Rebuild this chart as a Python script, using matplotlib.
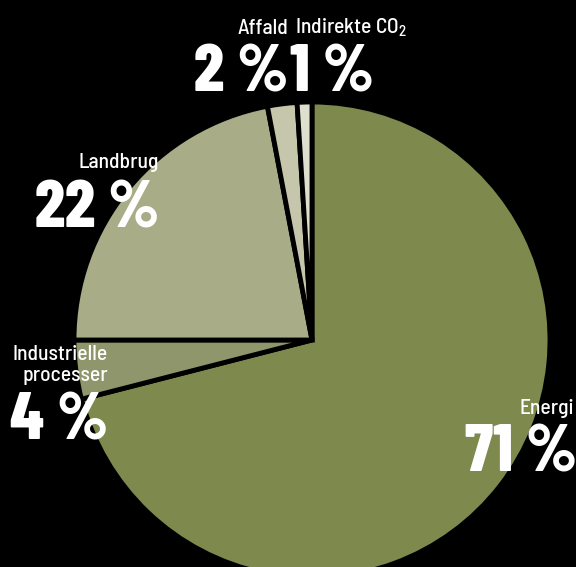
import matplotlib.pyplot as plt

# Andel af udledningen pr. sektor
sektorer = ['Energi', 'Industrielle processer', 'Landbrug', 'Affald', 'Indirekte CO2']
andele = [71, 4, 22, 2, 1]
farver = ['#7d894d', '#8f966c', '#a8ad87', '#c5c6ac', '#dedfcf']

big_font = 'Barlow Condensed'
small_font = 'Barlow Semi Condensed'

plt.rcParams['mathtext.fontset'] = 'custom'
plt.rcParams['mathtext.rm'] = small_font

W, H = 576, 567
fig = plt.figure(figsize=(W / 100, H / 100), dpi=100, facecolor='black')
ax = fig.add_axes([0, 0, 1, 1])
ax.set_facecolor('black')

ax.pie(andele, colors=farver, startangle=90, counterclock=False,
       center=(312, H - 340), radius=238,
       wedgeprops=dict(edgecolor='black', linewidth=3.5, joinstyle='miter'))
ax.set_xlim(0, W)
ax.set_ylim(0, H)
ax.set_aspect('equal')
ax.axis('off')


def navn(x, y, tekst, ha='right'):
    # y er baseline i billedkoordinater (fra toppen)
    ax.text(x, H - y, tekst, color='white', fontsize=15.5, family=small_font,
            weight=500, ha=ha, va='baseline', linespacing=1.1)


def tal(x, y, v):
    ax.text(x, H - y, f'{v} %', color='white', fontsize=48, family=big_font,
            weight=800, ha='right', va='baseline')


navn(288, 34, sektorer[3])
tal(288, 91, andele[3])
navn(295, 33, 'Indirekte CO$_\\mathregular{2}$', ha='left')
tal(374, 91, andele[4])
navn(159, 168, sektorer[2])
tal(159, 227, andele[2])
navn(108, 381, 'Industrielle\nprocesser')
tal(108, 440, andele[1])
navn(574, 414, sektorer[0])
tal(577, 472, andele[0])

fig.savefig('out.png', dpi=100, facecolor='black')
